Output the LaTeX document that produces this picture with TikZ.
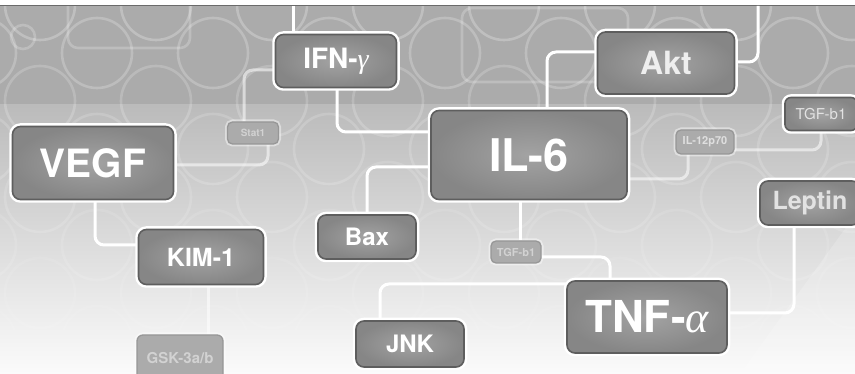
\documentclass[tikz,border=0pt]{standalone}
\usepackage{fontspec}
\setmainfont{TeX Gyre Heros}
\newfontfamily\grk{Liberation Serif}
\usetikzlibrary{calc}
\pgfdeclarelayer{back}
\pgfdeclarelayer{mid}
\pgfsetlayers{back,mid,main}
\definecolor{topband}{HTML}{ABABAB}
\definecolor{lowtop}{HTML}{BBBBBB}
\definecolor{lowbot}{HTML}{FBFBFB}
\definecolor{topline}{HTML}{6A6A6A}
\definecolor{boxedge}{HTML}{5E5E5E}
\definecolor{boxin}{HTML}{A3A3A3}
\definecolor{boxout}{HTML}{868686}
\definecolor{fadeedge}{HTML}{979797}
\definecolor{fadefill}{HTML}{ABABAB}
\definecolor{fadetext}{HTML}{D2D2D2}
\definecolor{softtext}{HTML}{E2E2E2}
\newcommand{\grkit}[1]{{\grk\mdseries\itshape #1}}
\begin{document}
\begin{tikzpicture}[x=1pt,y=-1pt,
  conn/.style={draw=white, line width=3pt, rounded corners=9pt},
  fconn/.style={conn, draw opacity=0.55},
  bgcirc/.style={draw=white, line width=2.6pt},
  bfont/.style={font=\fontsize{#1}{#1}\selectfont\bfseries},
  rfont/.style={font=\fontsize{#1}{#1}\selectfont},
  box/.style={rectangle, rounded corners=8pt, draw=boxedge, line width=1.6pt,
    inner color=boxin, outer color=boxout,
    preaction={draw=white, line width=6.5pt},
    text=white, inner sep=0pt},
  fbox/.style={rectangle, rounded corners=5pt, draw=fadeedge, line width=1.3pt,
    fill=fadefill, preaction={draw=white, draw opacity=0.45, line width=5pt},
    text=fadetext, inner sep=0pt}
]
\useasboundingbox (0,0) rectangle (855,374);

% ---------- nodes ----------
\node[box, bfont=28, minimum width=121pt, minimum height=53pt] (ifn) at (336,61) {IFN-\grkit{γ}};
\node[box, bfont=39, minimum width=161pt, minimum height=73pt] (vegf) at (93,163) {VEGF};
\node[fbox, bfont=10, minimum width=51pt, minimum height=22pt] (stat1) at (253,133) {Stat1};
\node[box, bfont=45, minimum width=196pt, minimum height=89pt] (il6) at (529,155) {IL-6};
\node[box, bfont=32, minimum width=137pt, minimum height=62pt, text=softtext!60!white] (akt) at (666,63) {Akt};
\node[box, rfont=15, rounded corners=6pt, minimum width=72pt, minimum height=33pt, text=softtext] (tgfr) at (821,114) {TGF-b1};
\node[fbox, bfont=11, minimum width=58pt, minimum height=24pt, text=fadetext!70!white] (il12) at (705,142) {IL-12p70};
\node[box, bfont=25, minimum width=100pt, minimum height=44pt, text=softtext] (leptin) at (810,203) {Leptin};
\node[box, bfont=24, minimum width=98pt, minimum height=44pt] (bax) at (367,237) {Bax};
\node[box, bfont=25, minimum width=125pt, minimum height=55pt] (kim) at (201,257) {KIM-1};
\node[fbox, bfont=15, rounded corners=6pt, minimum width=86pt, minimum height=46pt] (gsk) at (180,358) {GSK-3a/b};
\node[box, bfont=24, minimum width=108pt, minimum height=46pt] (jnk) at (410,344) {JNK};
\node[fbox, bfont=11, minimum width=50pt, minimum height=22pt] (tgfs) at (516,252) {TGF-b1};
\node[box, bfont=44, minimum width=160pt, minimum height=72pt] (tnf) at (647,317) {TNF-\grkit{α}};

\coordinate (top1) at (293,6);
\coordinate (top2) at (758,6);

% ---------- background ----------
\begin{pgfonlayer}{back}
  \fill[white] (0,0) rectangle (855,374);
  \fill[topband] (0,6) rectangle (855,105);
  \shade[top color=lowtop, bottom color=lowbot] (0,105) rectangle (855,374);
  \fill[white, opacity=0.18] (855,215) -- (855,374) -- (740,374) -- cycle;
  \foreach \r in {0,...,8}{
    \pgfmathsetmacro{\yy}{5+48*\r}
    \pgfmathsetmacro{\xo}{mod(\r,2)==0 ? 40 : 97}
    \pgfmathsetmacro{\op}{max(0.05, 0.24-0.025*\r)}
    \foreach \k in {-1,...,7}{
      \draw[bgcirc, draw opacity=\op] (\xo+116*\k,\yy) circle[radius=35];
    }
  }
  \draw[white, opacity=0.22, line width=2.6pt, rounded corners=10pt] (68,-10) rectangle (190,48);
  \draw[white, opacity=0.22, line width=2.6pt, rounded corners=10pt] (462,8) rectangle (628,82);
  \draw[white, opacity=0.22, line width=2.6pt] (23,37) circle[radius=12];
  \draw[topline, line width=1.6pt] (0,5.5) -- (855,5.5);
\end{pgfonlayer}

% ---------- connectors ----------
\begin{pgfonlayer}{mid}
  \draw[conn] (top1) -- (top1 |- ifn.north);
  \draw[conn] ([xshift=1pt]ifn.south) |- (il6.west |- 0,132);
  \draw[fconn] (ifn.west |- 0,70) -| ([xshift=-9pt]stat1.north);
  \draw[fconn] ([xshift=15pt]stat1.south) |- (vegf.east |- 0,165);
  \draw[conn] ([xshift=2pt]vegf.south) |- (kim.west |- 0,245);
  \draw[fconn] ([xshift=7pt]kim.south) -- ([xshift=7pt]kim.south |- gsk.north);
  \draw[conn] (akt.west |- 0,52) -| ([xshift=18pt]il6.north);
  \draw[conn] (top2) |- (akt.east |- 0,62);
  \draw[fconn] ([xshift=-17pt]il12.south) |- (il6.east |- 0,179);
  \draw[fconn] (il12.east |- 0,150) -| (tgfr.south);
  \draw[conn] (bax.north) |- (il6.west |- 0,167);
  \draw[conn] ([xshift=-9pt]il6.south) -- ([xshift=-9pt]il6.south |- tgfs.north);
  \draw[conn] (tgfs.east |- 0,257) -| ([xshift=-37pt]tnf.north);
  \draw[conn] ([xshift=-30pt]jnk.north) |- (tnf.west |- 0,284);
  \draw[conn] ([xshift=-16pt]leptin.south) |- (tnf.east |- 0,313);
\end{pgfonlayer}
\end{tikzpicture}
\end{document}
